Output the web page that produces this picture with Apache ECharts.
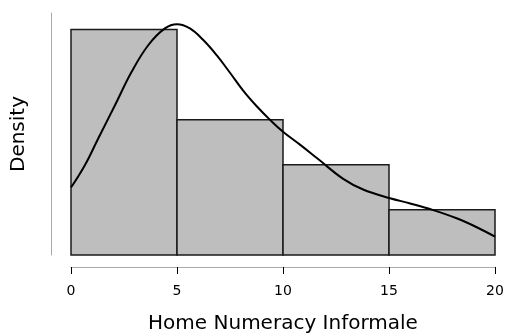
<!DOCTYPE html>
<html>
<head>
<meta charset="utf-8">
<script src="https://cdn.jsdelivr.net/npm/echarts@6/dist/echarts.min.js"></script>
<style>
  html, body { margin: 0; padding: 0; background: #fff; }
  #chart { width: 510px; height: 336px; }
</style>
</head>
<body>
<div id="chart"></div>
<script>
// histogram bins (edges) and density per bin
const binStart = [0, 5, 10, 15];
const binEnd = [5, 10, 15, 20];
const binDensity = [0.0909, 0.0545, 0.0364, 0.0182];

// kernel density curve
const curveX = [0, 0.66, 1.29, 2.08, 2.86, 3.65, 4.43, 5.0, 5.61, 6.24, 6.87, 7.5, 8.13,
                8.76, 9.39, 10.0, 10.8, 11.67, 12.84, 13.78, 15.05, 16.0, 17.09, 18.19, 19.14, 20];
const curveY = [0.0272, 0.0363, 0.0471, 0.0605, 0.0739, 0.0847, 0.0914, 0.0931, 0.0914, 0.0867,
                0.0806, 0.0735, 0.0662, 0.0600, 0.0545, 0.0497, 0.0445, 0.0386, 0.0307, 0.0264,
                0.0229, 0.0208, 0.0181, 0.0148, 0.0112, 0.0074];

const xTicks = [0, 5, 10, 15, 20];

const font = 'DejaVu Sans';
const chart = echarts.init(document.getElementById('chart'));

chart.setOption({
    animation: false,
    backgroundColor: '#fff',
    grid: { left: 71, right: 15, top: 13, bottom: 81, outerBoundsMode: 'none', containLabel: false },
    xAxis: {
        type: 'value',
        min: xTicks[0],
        max: xTicks[xTicks.length - 1],
        interval: 5,
        offset: 12,
        name: 'Home Numeracy Informale',
        nameLocation: 'middle',
        nameGap: 47,
        nameTextStyle: { fontFamily: font, fontSize: 20, color: '#000' },
        axisLine: { show: true, onZero: false, lineStyle: { color: '#aaaaaa', width: 1 } },
        axisTick: { show: true, length: 7, lineStyle: { color: '#000', width: 1 } },
        axisLabel: { fontFamily: font, fontSize: 14, color: '#000', margin: 17 },
        splitLine: { show: false }
    },
    yAxis: {
        type: 'value',
        min: 0,
        max: 0.0976,
        offset: 20,
        name: 'Density',
        nameLocation: 'middle',
        nameGap: 22,
        nameTextStyle: { fontFamily: font, fontSize: 20, color: '#000' },
        axisLine: { show: true, onZero: false, lineStyle: { color: '#aaaaaa', width: 1 } },
        axisTick: { show: false },
        axisLabel: { show: false },
        splitLine: { show: false }
    },
    series: [
        {
            type: 'custom',
            data: binDensity.map((d, i) => [binStart[i], binEnd[i], d]),
            encode: { x: [0, 1], y: 2 },
            renderItem: function (params, api) {
                const p0 = api.coord([api.value(0), 0]);
                const p1 = api.coord([api.value(1), api.value(2)]);
                return {
                    type: 'rect',
                    shape: { x: p0[0], y: p1[1], width: p1[0] - p0[0], height: p0[1] - p1[1] },
                    style: { fill: '#bebebe', stroke: '#1a1a1a', lineWidth: 1.5 }
                };
            }
        },
        {
            type: 'line',
            data: curveX.map((x, i) => [x, curveY[i]]),
            smooth: 0.4,
            showSymbol: false,
            lineStyle: { color: '#000', width: 2 },
            z: 5
        }
    ]
});
</script>
</body>
</html>
